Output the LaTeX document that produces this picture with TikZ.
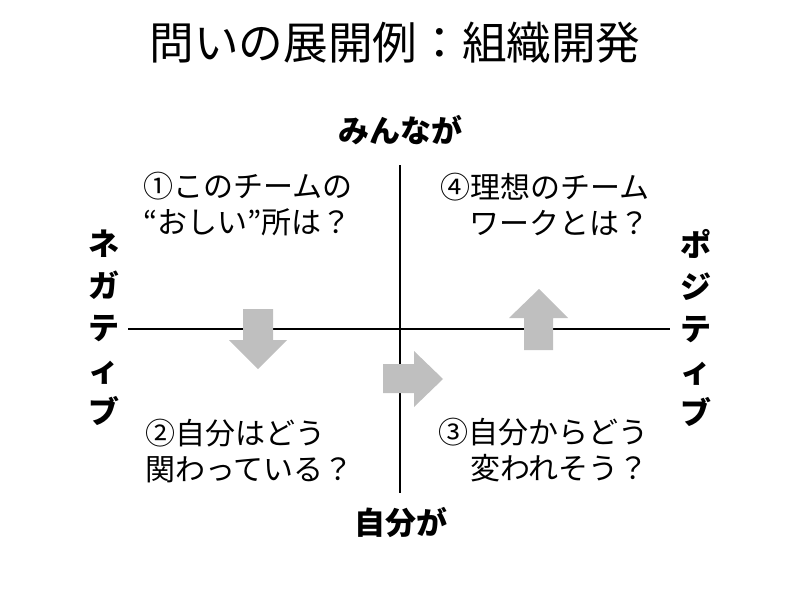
\documentclass[tikz,border=0pt]{standalone}
\usepackage{fontspec}
\setmainfont{Noto Sans CJK JP}
\tikzset{
    axisline/.style={black, line width=1.3pt},
    quadtext/.style={font=\fontsize{22.5pt}{27pt}\selectfont, inner sep=0pt},
    axislabel/.style={font=\fontsize{23.25pt}{28pt}\selectfont\bfseries, inner sep=0pt},
    sidelabel/.style={font=\fontsize{23.25pt}{31.5pt}\selectfont\bfseries, align=center, inner sep=0pt},
    bigarrow/.style={fill=black!25}
}
\begin{document}
\begin{tikzpicture}[x=0.75pt, y=-0.75pt]
    \useasboundingbox (0,0) rectangle (800,589);

    % Title
    \node[font=\fontsize{33.5pt}{40pt}\selectfont, inner sep=0pt] (title) at (395,43) {問いの展開例：組織開発};

    % Axes
    \coordinate (top)    at (400,165);
    \coordinate (bottom) at (400,493);
    \coordinate (left)   at (128,329);
    \coordinate (right)  at (670,329);
    \draw[axisline] (top) -- (bottom);
    \draw[axisline] (left) -- (right);

    % Axis labels
    \node[axislabel] (all)  at (400,130) {みんなが};
    \node[axislabel] (self) at (401,522) {自分が};
    \node[sidelabel] (neg)  at (104,328) {ネ\\ガ\\テ\\ィ\\ブ};
    \node[sidelabel] (pos)  at (696,328) {ポ\\ジ\\テ\\ィ\\ブ};

    % Quadrant questions
    \node[quadtext, anchor=west,  align=left]  (q1) at (143,204) {①このチームの\\“おしい”所は？};
    \node[quadtext, anchor=east,  align=right] (q4) at (650,204) {④理想のチーム\\ワークとは？};
    \node[quadtext, anchor=west,  align=left]  (q2) at (145,451) {②自分はどう\\関わっている？};
    \node[quadtext, anchor=east,  align=right] (q3) at (649,450) {③自分からどう\\変われそう？};

    % Arrows (down, right, up)
    \fill[bigarrow] (243,309) -- (273,309) -- (273,340) -- (287,340) -- (258,369) -- (229,340) -- (243,340) -- cycle;
    \fill[bigarrow] (383,364) -- (414,364) -- (414,351) -- (443,379) -- (414,407) -- (414,393) -- (383,393) -- cycle;
    \fill[bigarrow] (524,350) -- (524,318) -- (509,318) -- (539,289) -- (568,318) -- (553,318) -- (553,350) -- cycle;
\end{tikzpicture}
\end{document}
